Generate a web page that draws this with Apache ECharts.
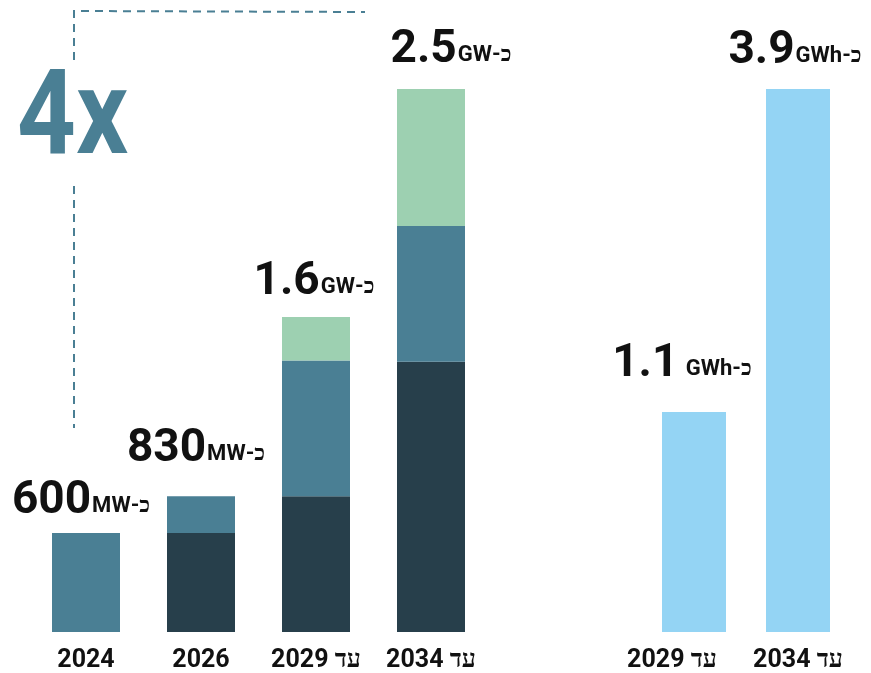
<!DOCTYPE html>
<html>
<head>
<meta charset="utf-8">
<script src="https://cdn.jsdelivr.net/npm/echarts@6/dist/echarts.min.js"></script>
<style>
  html, body { margin: 0; padding: 0; background: #fff; }
  #chart { width: 871px; height: 673px; }
</style>
</head>
<body>
<div id="chart"></div>
<script>
// data (bar heights, relative units)
const leftCats = ['2024', '2026', 'עד 2029', 'עד 2034'];
const darkSeg = [0, 0.73, 1.0, 1.99];
const midSeg = [0.73, 0.27, 1.0, 1.0];
const greenSeg = [0, 0, 0.32, 1.01];
const leftNums = ['600', '830', '1.6', '2.5'];
const leftUnits = ['כ-MW', 'כ-MW', 'כ-GW', 'כ-GW'];

const rightCats = ['עד 2029', 'עד 2034'];
const storage = [1.62, 4.0];
const rightNums = ['1.1', '3.9'];
const rightUnits = ['כ-GWh', 'כ-GWh'];

const rtl = s => '\u202B' + s + '\u202C';

// label offsets (tweaked to match layout)
const leftLabelDist = [8, 24, 12, 16];
const leftLabelDx = [-5, -5, -2, 20];
const rightLabelDist = [25, 15];
const rightLabelDx = [-12, -3];

const numRich = {
  n: { fontFamily: 'Roboto', fontWeight: 'bold', fontSize: 46, color: '#111', lineHeight: 46 },
  u: { fontFamily: 'Roboto', fontWeight: 'bold', fontSize: 22, color: '#111', lineHeight: 22, verticalAlign: 'bottom', padding: [0, 0, 7, 1] }
};

let chart = echarts.init(document.getElementById('chart'));

const catFont = { fontFamily: 'Roboto', fontWeight: 'bold', fontSize: 25, color: '#111' };

chart.setOption({
  animation: false,
  grid: [
    { left: 28.5, width: 460, top: 89, height: 543 },
    { left: 642, width: 208, top: 89, height: 543 }
  ],
  xAxis: [
    {
      gridIndex: 0, type: 'category', data: leftCats,
      axisLine: { show: false }, axisTick: { show: false },
      axisLabel: Object.assign({ margin: 16, interval: 0, formatter: v => rtl(v) }, catFont)
    },
    {
      gridIndex: 1, type: 'category', data: rightCats,
      axisLine: { show: false }, axisTick: { show: false },
      axisLabel: Object.assign({
        margin: 16, interval: 0,
        // first label sits left of its bar in the original
        formatter: (v, i) => (i === 0 ? '{s|' : '{c|') + rtl(v) + '}',
        rich: {
          s: Object.assign({ padding: [0, 44, 0, 0] }, catFont),
          c: Object.assign({}, catFont)
        }
      }, catFont)
    }
  ],
  yAxis: [
    { gridIndex: 0, type: 'value', min: 0, max: 4, show: false },
    { gridIndex: 1, type: 'value', min: 0, max: 4, show: false }
  ],
  series: [
    {
      type: 'bar', stack: 'a', xAxisIndex: 0, yAxisIndex: 0, barWidth: 68,
      data: darkSeg, itemStyle: { color: '#273f4b' }
    },
    {
      type: 'bar', stack: 'a', xAxisIndex: 0, yAxisIndex: 0, barWidth: 68,
      data: midSeg, itemStyle: { color: '#4a7f94' }
    },
    {
      type: 'bar', stack: 'a', xAxisIndex: 0, yAxisIndex: 0, barWidth: 68,
      data: greenSeg, itemStyle: { color: '#9dd0b1' }
    },
    {
      // label holder on top of each stack
      type: 'bar', stack: 'a', xAxisIndex: 0, yAxisIndex: 0, barWidth: 68,
      data: leftNums.map((n, i) => ({
        value: 0,
        label: { distance: leftLabelDist[i], offset: [leftLabelDx[i], 0] }
      })),
      itemStyle: { color: 'transparent' },
      label: {
        show: true, position: 'top',
        formatter: p => '{n|' + leftNums[p.dataIndex] + '}{u|' + rtl(leftUnits[p.dataIndex]) + '}',
        rich: numRich
      }
    },
    {
      type: 'bar', xAxisIndex: 1, yAxisIndex: 1, barWidth: 64,
      data: storage.map((v, i) => ({
        value: v,
        label: { distance: rightLabelDist[i], offset: [rightLabelDx[i], 0] }
      })),
      itemStyle: { color: '#94d4f4' },
      label: {
        show: true, position: 'top',
        formatter: p => '{n|' + rightNums[p.dataIndex] + '}' + (p.dataIndex === 0 ? '{u| }' : '') + '{u|' + rtl(rightUnits[p.dataIndex]) + '}',
        rich: numRich
      }
    }
  ],
  graphic: [
    {
      type: 'polyline',
      shape: { points: [[74, 60], [74, 11], [365, 12]] },
      style: { stroke: '#4a7f94', lineWidth: 2, fill: null, lineDash: [8, 6] }
    },
    {
      type: 'line',
      shape: { x1: 74, y1: 186, x2: 74, y2: 428 },
      style: { stroke: '#4a7f94', lineWidth: 2, lineDash: [8, 6] }
    },
    {
      type: 'text', x: 17, y: 64, scaleX: 0.87,
      style: {
        text: '4x', fill: '#4a7f94',
        font: 'bold 118px Roboto'
      }
    }
  ]
});
</script>
</body>
</html>
